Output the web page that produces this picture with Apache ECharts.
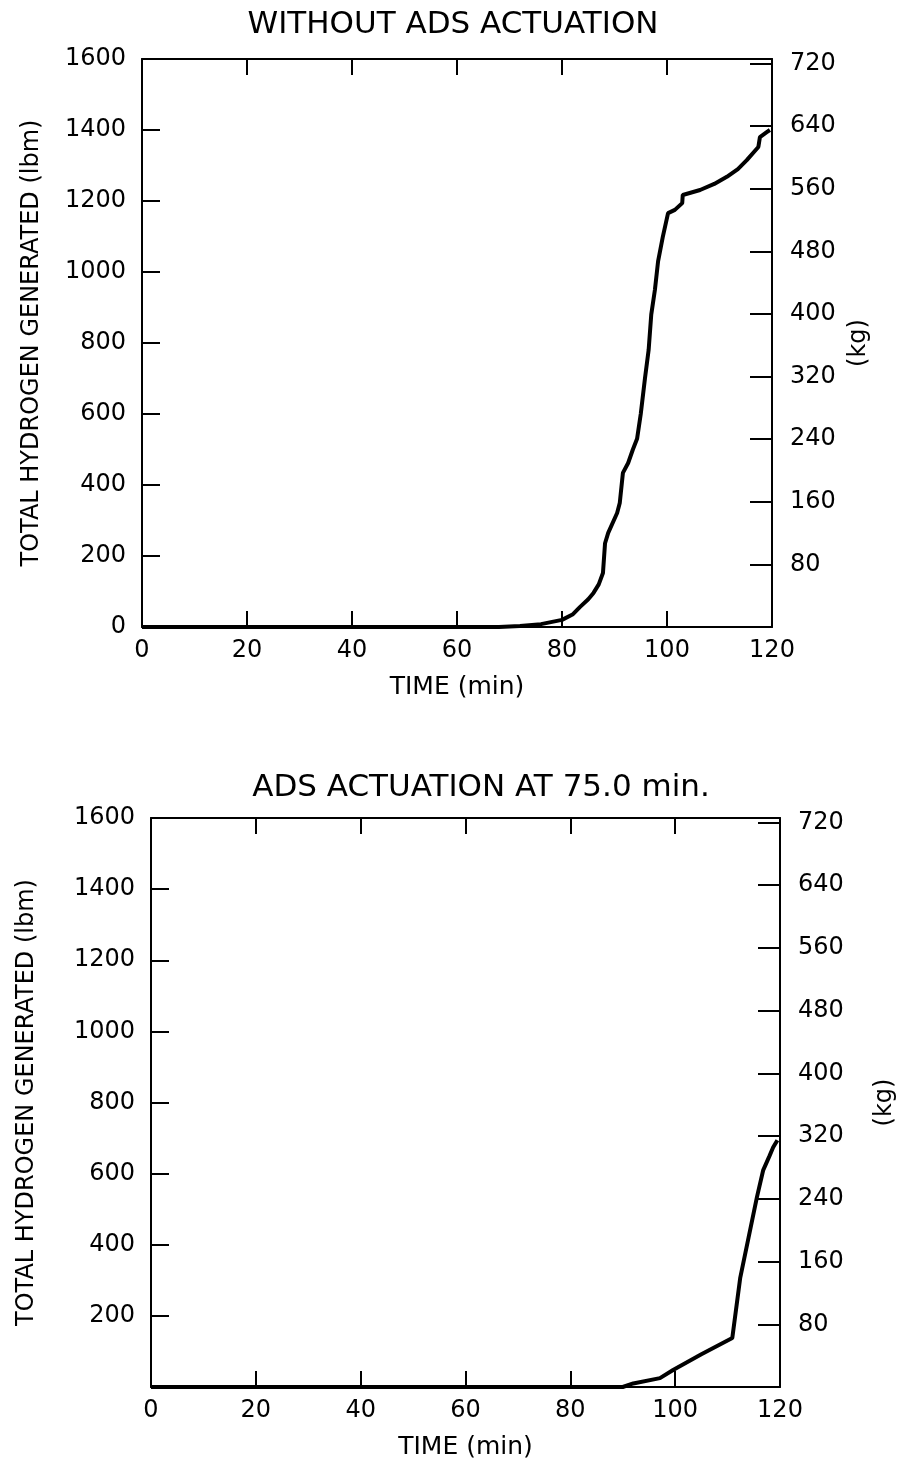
<!DOCTYPE html>
<html>
<head>
<meta charset="utf-8">
<script src="https://cdn.jsdelivr.net/npm/echarts@6/dist/echarts.min.js"></script>
<style>
  html, body { margin: 0; padding: 0; background: #fff; }
  #main { width: 897px; height: 1462px; }
</style>
</head>
<body>
<div id="main"></div>
<script>
// 数据
let timeTicks = [0, 20, 40, 60, 80, 100, 120];
let lbmPerKg = 2.20462;

// 上图：无 ADS 动作 [min, lbm]
let noAdsTime = [0, 68, 72, 76, 80, 82, 83.4, 85, 86, 87, 87.8, 88.2, 88.8, 90.5, 91, 91.6, 92.6, 93.5, 94.3, 95, 95.8, 96.5, 97, 97.7, 98.3, 99.2, 100.2, 101.5, 102.9, 103, 106.3, 109, 111.4, 113.5, 115.2, 117.4, 117.7, 119, 119.6];
let noAdsH2 = [0, 0, 3, 8, 20, 35, 56, 78, 96, 120, 152, 236, 265, 321, 349, 434, 462, 500, 530, 600, 700, 780, 880, 950, 1030, 1099, 1166, 1175, 1194, 1217, 1231, 1248, 1268, 1290, 1315, 1352, 1380, 1394, 1400];

// 下图：75.0 min ADS 动作
let adsTime = [0, 90, 92, 97.1, 99.6, 105, 110.9, 112.4, 114, 115.6, 116.8, 118, 118.7, 119.5];
let adsH2 = [0, 0, 10, 25, 48, 92, 138, 306, 420, 534, 610, 650, 674, 694];

let font = "'DejaVu Sans', sans-serif";

let init = function(id) {
  return echarts.init(document.getElementById(id));
}

let pairs = function(xs, ys) {
  return xs.map(function(x, i) { return [x, ys[i]]; });
}

let label = function(size) {
  return { color: "#000", fontFamily: font, fontSize: size };
}

// 去掉千位逗号
let plain = function(v) { return String(Math.round(v)); };

let axisLine = { show: true, onZero: false, lineStyle: { color: "#000", width: 2 } };
let tick = function(len) {
  return { show: true, inside: true, length: len, lineStyle: { color: "#000", width: 2 } };
}

/**
 * 一组 x 轴 (gi: grid 索引)
 * **/
let xAxes = function(gi) {
  return [
    {
      gridIndex: gi, type: "value", position: "bottom",
      min: 0, max: 120, interval: 20,
      axisLine: axisLine,
      axisTick: tick(16),
      axisLabel: Object.assign({ margin: 12, formatter: plain }, label(24)),
      splitLine: { show: false },
      name: "TIME (min)", nameLocation: "middle", nameGap: 48,
      nameTextStyle: label(25)
    },
    {
      gridIndex: gi, type: "value", position: "top",
      min: 0, max: 120, interval: 20,
      axisLine: axisLine,
      axisTick: tick(16),
      axisLabel: { show: false },
      splitLine: { show: false }
    }
  ];
}

/**
 * 一组 y 轴：左 lbm，右 kg
 * **/
let yAxes = function(gi, showZero, lbmGap, kgGap) {
  return [
    {
      gridIndex: gi, type: "value", position: "left",
      min: 0, max: 1600, interval: 200,
      axisLine: axisLine,
      axisTick: tick(18),
      axisLabel: Object.assign({ margin: 16, showMinLabel: showZero, formatter: plain }, label(24)),
      splitLine: { show: false },
      name: "TOTAL HYDROGEN GENERATED (lbm)", nameLocation: "middle", nameGap: lbmGap, nameRotate: 90,
      nameTextStyle: label(24)
    },
    {
      gridIndex: gi, type: "value", position: "right",
      min: 0, max: 1600 / lbmPerKg, interval: 80,
      axisLine: axisLine,
      axisTick: tick(22),
      axisLabel: Object.assign({ margin: 18, showMinLabel: false, showMaxLabel: false, formatter: plain }, label(24)),
      splitLine: { show: false },
      name: "(kg)", nameLocation: "middle", nameGap: kgGap, nameRotate: 90,
      nameTextStyle: label(24)
    }
  ];
}

let lineSeries = function(idx, data) {
  return {
    type: "line",
    xAxisIndex: idx * 2,
    yAxisIndex: idx * 2,
    data: data,
    symbol: "none",
    smooth: false,
    lineStyle: { color: "#000", width: 4 }
  };
}

let chart = init("main");
chart.setOption({
  backgroundColor: "#fff",
  animation: false,
  title: [
    { text: "WITHOUT ADS ACTUATION", left: 448, top: 4, textAlign: "center",
      textStyle: { color: "#000", fontFamily: font, fontWeight: "normal", fontSize: 31 } },
    { text: "ADS ACTUATION AT 75.0 min.", left: 476, top: 767, textAlign: "center",
      textStyle: { color: "#000", fontFamily: font, fontWeight: "normal", fontSize: 31 } }
  ],
  grid: [
    { left: 142, top: 59, width: 630, height: 568, outerBoundsMode: "none", containLabel: false },
    { left: 151, top: 818, width: 629, height: 569, outerBoundsMode: "none", containLabel: false }
  ],
  xAxis: xAxes(0).concat(xAxes(1)),
  yAxis: yAxes(0, true, 98, 75).concat(yAxes(1, false, 112, 93)),
  series: [
    lineSeries(0, pairs(noAdsTime, noAdsH2)),
    lineSeries(1, pairs(adsTime, adsH2))
  ]
});
</script>
</body>
</html>
